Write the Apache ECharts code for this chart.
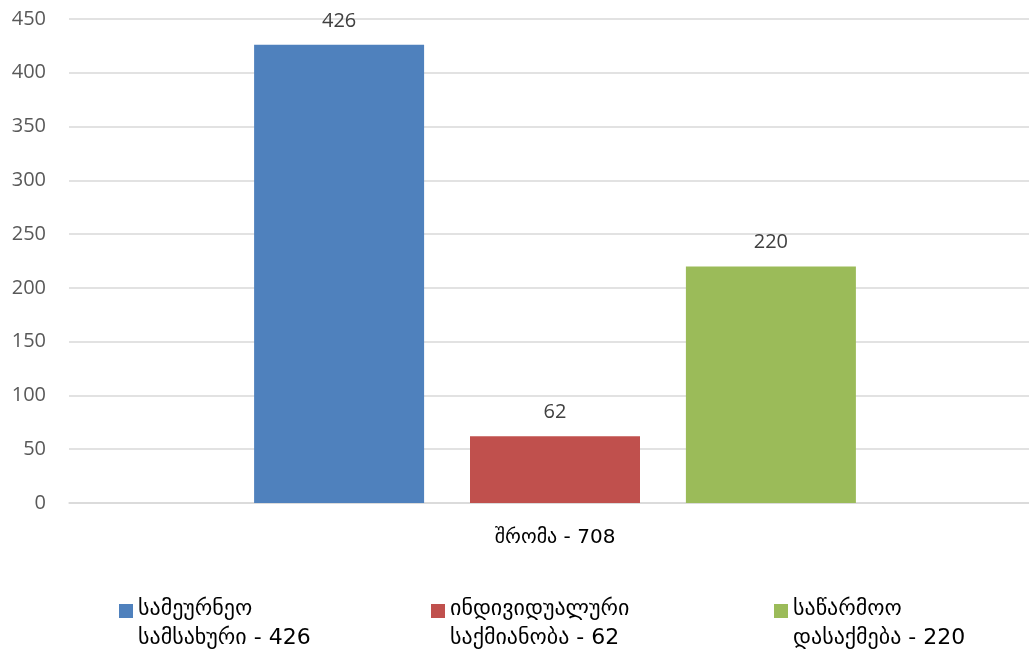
<!DOCTYPE html>
<html><head><meta charset="utf-8">
<script src="https://cdn.jsdelivr.net/npm/echarts@6/dist/echarts.min.js"></script>
<style>html,body{margin:0;padding:0;background:#fff;overflow:hidden;width:1029px;height:657px}#c{width:1041px;height:657px}</style>
</head><body><div id="c"></div>
<script>
const categories = ['შრომა - 708'];
const seriesNames = ['სამეურნეო\nსამსახური - 426', 'ინდივიდუალური\nსაქმიანობა - 62', 'საწარმოო\nდასაქმება - 220'];
const seriesValues = [[426], [62], [220]];
const seriesColors = ['#4F81BD', '#C0504D', '#9BBB59'];
const yTicks = { min: 0, max: 450, interval: 50 };

const font = "'DejaVu Sans', 'Open Sans', sans-serif";
const numFont = "'Open Sans', 'DejaVu Sans', sans-serif";
const legendLefts = [119, 431, 774];
const iconPath = 'path://M0,0L14,0L14,14L0,14Z M0,40L0.01,40L0,40Z';

const chart = echarts.init(document.getElementById('c'));
chart.setOption({
  animation: false,
  backgroundColor: '#fff',
  grid: { left: 69, right: 0, top: 19, bottom: 154 },
  legend: seriesNames.map((n, i) => ({
    data: [n], left: legendLefts[i], top: 595, padding: 0,
    icon: iconPath, itemWidth: 14, itemHeight: 40, itemGap: 0,
    textStyle: { fontFamily: font, fontSize: 22, lineHeight: 29, color: '#000' }
  })),
  xAxis: {
    type: 'category', data: categories,
    axisLine: { lineStyle: { color: '#d9d9d9', width: 1.5 } },
    axisTick: { show: false },
    axisLabel: { margin: 25, fontFamily: font, fontSize: 20, color: '#000' }
  },
  yAxis: {
    type: 'value', min: yTicks.min, max: yTicks.max, interval: yTicks.interval,
    axisLine: { show: false }, axisTick: { show: false },
    splitLine: { lineStyle: { color: '#d9d9d9', width: 1.5 } },
    axisLabel: { margin: 23, fontFamily: numFont, fontSize: 20, color: '#595959' }
  },
  series: seriesNames.map((n, i) => ({
    name: n, type: 'bar', data: seriesValues[i],
    barWidth: 170, barGap: '27%',
    itemStyle: { color: seriesColors[i] },
    label: { show: true, position: 'top', distance: 14, fontFamily: numFont, fontSize: 20, color: '#404040' }
  }))
});
</script></body></html>
